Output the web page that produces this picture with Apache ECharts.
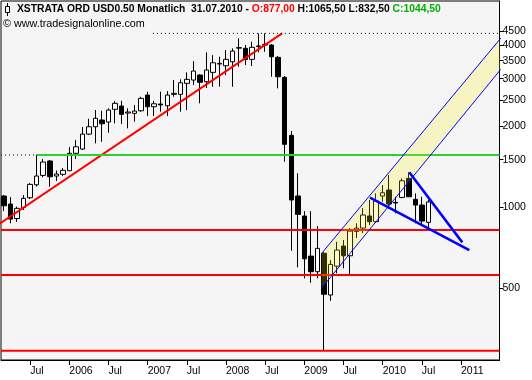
<!DOCTYPE html>
<html><head><meta charset="utf-8">
<script src="https://cdn.jsdelivr.net/npm/echarts@6/dist/echarts.min.js"></script>
<style>html,body{margin:0;padding:0;background:#fff}#c{width:532px;height:380px}</style>
</head><body><div id="c"></div>
<script>
// monthly candles, date = month (placed at month end)
const dates = ['2005-02','2005-03','2005-04','2005-05','2005-06','2005-07','2005-08','2005-09','2005-10','2005-11','2005-12',
'2006-01','2006-02','2006-03','2006-04','2006-05','2006-06','2006-07','2006-08','2006-09','2006-10','2006-11','2006-12',
'2007-01','2007-02','2007-03','2007-04','2007-05','2007-06','2007-07','2007-08','2007-09','2007-10','2007-11','2007-12',
'2008-01','2008-02','2008-03','2008-04','2008-05','2008-06','2008-07','2008-08','2008-09','2008-10','2008-11','2008-12',
'2009-01','2009-02','2009-03','2009-04','2009-05','2009-06','2009-07','2009-08','2009-09','2009-10','2009-11','2009-12',
'2010-01','2010-02','2010-03','2010-04','2010-05','2010-06','2010-07'];
const open  = [1099,1026,906,996,1083,1210,1311,1483,1304,1323,1365,1584,1643,1867,1988,2106,2070,2308,2374,2236,2230,2280,2608,2360,2415,2380,2624,2624,2883,2966,3095,2923,3167,3400,3351,3468,3910,3890,3540,3950,4025,4001,3601,3035,1847,1099,926,657,575,673,471,603,716,659,812,835,926,882,1099,1157,1041,1086,1278,1068,1017,877];
const close = [1011,902,989,1077,1214,1304,1470,1296,1326,1369,1584,1675,1867,1988,2137,2040,2294,2430,2211,2255,2274,2535,2360,2420,2396,2608,2646,2897,2983,3203,2908,3231,3438,3420,3540,3801,3898,3540,3924,3971,4001,3620,3051,1711,1062,939,642,575,702,474,612,692,659,814,835,934,882,1053,1130,1026,1035,1252,1092,1017,887,1044.5];
const low   = [966,870,880,975,1071,1192,1289,1190,1249,1304,1360,1508,1629,1852,1725,1749,1889,2047,2035,1961,2075,2262,2179,2180,2262,2179,2571,2262,2294,2841,2430,2770,2801,2801,3095,2801,3322,3373,3344,3760,3779,3051,2763,1474,688,597,543,523,543,292,448,567,592,559,767,800,857,872,1046,989,947,1077,1089,870,857,832.5];
const high  = [1108,1089,1004,1108,1228,1567,1508,1496,1367,1396,1671,1775,1983,2129,2294,2280,2328,2477,2483,2328,2394,2570,2683,2480,2683,2699,2966,2983,3167,3489,3115,3760,3673,3620,3833,3890,4238,4001,4116,4423,4423,4040,3640,3070,1917,1335,966,966,850,680,635,743,754,835,870,991,1062,1124,1207,1315,1092,1278,1346,1124,1092,1065.5];

const xTickValues = [6,12,18,24,30,36,42,48,54,60,66,72];
const xTickLabels = ['Jul','2006','Jul','2007','Jul','2008','Jul','2009','Jul','2010','Jul','2011'];
const yTickValues = [500,1000,1500,2000,2500,3000,3500,4000,4500];

// drawn tools (x in months since Jan 2005, y in price)
const redTrend = [[1.38, 869], [44.6, 4423]];
const redLevels = [821, 559, 292];
const greenLevel = 1561, greenStart = 7;
const topLevel = 4423, topStart = 24.8;
const channelUpper = [[50.66, 673], [78.1, 4245]];
const channelLower = [[50.66, 500], [78.1, 3251]];
const wedgeA = [[58.06, 1083], [73.27, 692]];
const wedgeB = [[64.08, 1346], [72.2, 739]];

const X_MIN = 1.53, X_MAX = 77.9;

function monthPos(d) { const [y, m] = d.split('-').map(Number); return (y - 2005) * 12 + m; }
const candles = dates.map((d, i) => [monthPos(d), open[i], close[i], low[i], high[i]]);

const chart = echarts.init(document.getElementById('c'), null, {renderer: 'canvas'});
const FONT = 'Liberation Sans';
function seg(data, color, width, type, z) {
  return {type: 'line', data: data, symbol: 'none', silent: true, z: z || 3, clip: true,
    lineStyle: {color: color, width: width, type: type || 'solid'}, animation: false};
}
const series = [
  {type: 'candlestick', data: candles, encode: {x: 0, y: [1, 2, 3, 4]}, barWidth: 5, z: 2,
    itemStyle: {color: '#ffffff', color0: '#000000', borderColor: '#000000', borderColor0: '#000000', borderWidth: 1}},
  seg(redTrend, '#ff0000', 2),
  seg([[greenStart, greenLevel], [X_MAX, greenLevel]], '#33cc33', 2),
  seg([[X_MIN, greenLevel], [greenStart, greenLevel]], '#000000', 1, [1, 3]),
  seg([[topStart, topLevel], [X_MAX, topLevel]], '#000000', 1, [1, 3]),
];
redLevels.forEach(v => series.push(seg([[X_MIN, v], [X_MAX, v]], '#ff0000', 2)));
series.push({
  type: 'custom', z: 4, clip: true, silent: true, animation: false,
  data: [channelLower[0]],
  encode: {x: 0, y: 1},
  renderItem: function (params, api) {
    const pts = channelLower.concat(channelUpper.slice().reverse()).map(p => api.coord(p));
    return {type: 'polygon', shape: {points: pts}, style: {fill: 'rgba(255,238,0,0.2)'}};
  }
});
series.push(seg(channelUpper, '#0000ff', 1, 'solid', 5));
series.push(seg(channelLower, '#0000ff', 1, 'solid', 5));
series.push(seg(wedgeA, '#0000ff', 2.5, 'solid', 5));
series.push(seg(wedgeB, '#0000ff', 2.5, 'solid', 5));

chart.setOption({
  animation: false,
  backgroundColor: '#ffffff',
  title: [
    {text: '{k|XSTRATA ORD USD0.50 Monatlich  31.07.2010 - }{r|O:877,00}{k| H:1065,50 L:832,50 }{g|C:1044,50}',
      left: 17, top: 4, padding: 0,
      textStyle: {rich: {
        k: {color: '#000', fontFamily: FONT, fontSize: 10.3},
        r: {color: '#ff0000', fontFamily: FONT, fontSize: 10.3},
        g: {color: '#00b000', fontFamily: FONT, fontSize: 10.3}}}},
    {text: '© www.tradesignalonline.com', left: 3, top: 19, padding: 0,
      textStyle: {color: '#000', fontFamily: FONT, fontSize: 10.8, fontWeight: 'normal'}}
  ],
  graphic: [
    {type: 'line', shape: {x1: 7.5, y1: 3, x2: 7.5, y2: 16}, style: {stroke: '#000', lineWidth: 1}, z: 10},
    {type: 'rect', shape: {x: 5.5, y: 6.5, width: 4, height: 6}, style: {fill: '#fff', stroke: '#000', lineWidth: 1}, z: 11}
  ],
  grid: {left: 1, right: 32.5, top: 1, bottom: 20, show: true, backgroundColor: '#f5f5f5', borderColor: '#000', borderWidth: 1, outerBoundsMode: 'none'},
  xAxis: {type: 'value', min: X_MIN, max: X_MAX, splitLine: {show: false},
    axisLine: {show: true, onZero: false, lineStyle: {color: '#000'}},
    axisTick: {show: true, length: 5, customValues: xTickValues, lineStyle: {color: '#000'}},
    axisLabel: {customValues: xTickValues, align: 'left', margin: 6, color: '#000', fontFamily: FONT, fontSize: 10.5,
      formatter: v => { const k = xTickValues.indexOf(Math.round(v)); return k >= 0 ? xTickLabels[k] : ''; }}},
  yAxis: {type: 'log', logBase: 10, position: 'right', min: 270, max: 5834, splitLine: {show: false},
    axisLine: {show: true, lineStyle: {color: '#000'}},
    axisTick: {show: true, length: 4, customValues: yTickValues, lineStyle: {color: '#000'}},
    axisLabel: {customValues: yTickValues, margin: 3, color: '#000', fontFamily: FONT, fontSize: 10.5, formatter: v => String(Math.round(v))},
    minorTick: {show: false}},
  series: series
});
</script></body></html>
